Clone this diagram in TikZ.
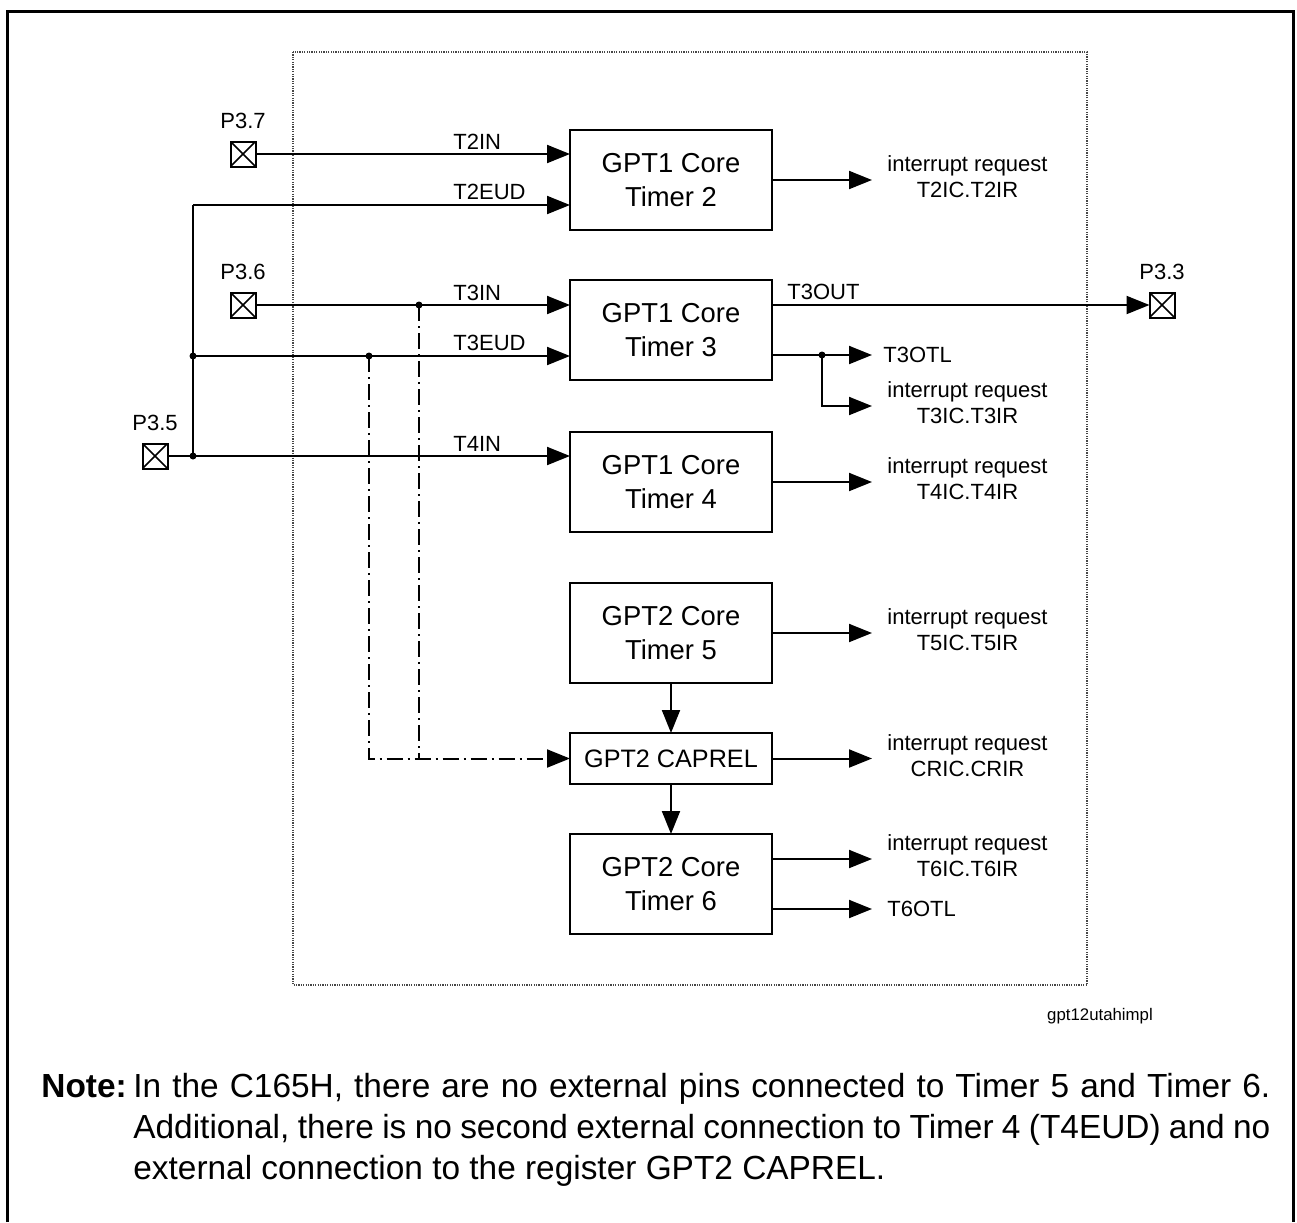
\documentclass[tikz,border=0pt]{standalone}
\usepackage{fontspec}
\setmainfont{Liberation Sans}
\usepackage{tikz}
\usetikzlibrary{arrows.meta,positioning}
\definecolor{gptInk}{RGB}{0,0,0}
\definecolor{gptDots}{RGB}{70,70,70}

\begin{document}
\begin{tikzpicture}[x=0.5pt,y=-0.5pt,
  node distance=25pt,
  core/.style={draw=gptInk,line width=1.3pt,outer sep=0pt,minimum width=101pt,minimum height=50pt,
               align=center,font=\fontsize{13.7pt}{17pt}\selectfont},
  pin/.style={draw=gptInk,line width=1pt,minimum size=12.5pt,inner sep=0pt,outer sep=0pt,
              path picture={\draw[line width=0.8pt]
                (path picture bounding box.north west)--(path picture bounding box.south east)
                (path picture bounding box.north east)--(path picture bounding box.south west);}},
  lbl/.style={font=\fontsize{11pt}{13pt}\selectfont,inner sep=0pt},
  irq/.style={lbl,align=center},
  dot/.style={circle,fill=gptInk,inner sep=0pt,minimum size=3.5pt},
  wire/.style={line width=1pt,draw=gptInk},
  sig/.style={wire,-{Triangle[length=11.5pt,width=9pt]}},
  dd/.style={sig,dash pattern=on 8pt off 2.5pt on 1pt off 2.5pt},
  notefont/.style={font=\fontsize{16.7pt}{20.5pt}\selectfont,inner sep=0pt}]
\useasboundingbox (0,0) rectangle (1297,1222);
% frame and module border
\draw[line width=1.5pt] (7,1222) -- (7,11) -- (1293,11) -- (1293,1222);
\draw[gptDots,line width=0.6pt,dash pattern=on 0.6pt off 0.6pt] (293,52) rectangle (1087,985);

% timer blocks
\node[core] (t2) at (671,180) {GPT1 Core\\Timer 2};
\node[core,below=of t2] (t3) {GPT1 Core\\Timer 3};
\node[core,below=26pt of t3] (t4) {GPT1 Core\\Timer 4};
\node[core,below=25.5pt of t4] (t5) {GPT2 Core\\Timer 5};
\node[core,minimum height=25.5pt,font=\fontsize{12.6pt}{15pt}\selectfont,below=of t5] (caprel) {GPT2 CAPREL};
\node[core,below=of caprel] (t6) {GPT2 Core\\Timer 6};

% port pins
\node[pin] (p37) at (243,154) {};
\node[pin] (p36) at (243,305) {};
\node[pin] (p35) at (155,456) {};
\node[pin] (p33) at (1162,305) {};
\node[lbl,above=6pt of p37] (p37l) {P3.7};
\node[lbl,above=6pt of p36] (p36l) {P3.6};
\node[lbl,above=6pt of p35] (p35l) {P3.5};
\node[lbl,above=6pt of p33] (p33l) {P3.3};

% inputs
\coordinate (c2eud) at (193,205);
\node[dot] (j3eud) at (193,356) {};
\node[dot] (j4in) at (193,456) {};
\node[dot] (jcapa) at (369,356) {};
\node[dot] (jcapb) at (419,305) {};
\draw[sig] (p37) -- (p37 -| t2.west);
\draw[sig] (c2eud) -- (c2eud -| t2.west);
\draw[wire] (c2eud) -- (j4in.center);
\draw[sig] (p36) -- (p36 -| t3.west);
\draw[sig] (j3eud.center) -- (j3eud -| t3.west);
\draw[sig] (p35) -- (p35 -| t4.west);
\draw[dd] (jcapa.center) |- (caprel.west);
\draw[dd,-] (jcapb.center) -- (jcapb |- caprel.west);
\node[lbl,anchor=base west] (t2inl) at (453,149) {T2IN};
\node[lbl,anchor=base west] (t2eudl) at (453,199) {T2EUD};
\node[lbl,anchor=base west] (t3inl) at (453,300) {T3IN};
\node[lbl,anchor=base west] (t3eudl) at (453,350) {T3EUD};
\node[lbl,anchor=base west] (t4inl) at (453,451) {T4IN};

% chain in GPT2
\draw[sig] (t5) -- (caprel);
\draw[sig] (caprel) -- (t6);

% outputs
\coordinate (ox) at (872,0);
\coordinate (o2) at (t2.east -| ox);
\coordinate (o3l) at (872,355);
\coordinate (o3i) at (872,406);
\coordinate (o4) at (t4.east -| ox);
\coordinate (o5) at (t5.east -| ox);
\coordinate (oc) at (caprel.east -| ox);
\coordinate (o6i) at ([yshift=12.5pt]t6.east -| ox);
\coordinate (o6l) at ([yshift=-12.5pt]t6.east -| ox);
\node[dot] (j3o) at (822,355) {};
\draw[sig] (t2) -- (o2);
\draw[sig] (t3.east |- p33) -- (p33);
\draw[wire] (t3.east |- j3o) -- (j3o.center);
\draw[sig] (j3o.center) -- (o3l);
\draw[sig] (j3o.center) |- (o3i);
\draw[sig] (t4) -- (o4);
\draw[sig] (t5) -- (o5);
\draw[sig] (caprel) -- (oc);
\draw[sig] (t6.east |- o6i) -- (o6i);
\draw[sig] (t6.east |- o6l) -- (o6l);
\node[lbl,anchor=base west] (t3outl) at (787,299) {T3OUT};
\node[irq,right=7.5pt of o2,yshift=1.5pt] (l2) {interrupt request\\T2IC.T2IR};
\node[lbl,right=5.5pt of o3l] (l3l) {T3OTL};
\node[irq,right=7.5pt of o3i,yshift=1.5pt] (l3i) {interrupt request\\T3IC.T3IR};
\node[irq,right=7.5pt of o4,yshift=1.5pt] (l4) {interrupt request\\T4IC.T4IR};
\node[irq,right=7.5pt of o5,yshift=1.5pt] (l5) {interrupt request\\T5IC.T5IR};
\node[irq,right=7.5pt of oc,yshift=1.5pt] (lc) {interrupt request\\CRIC.CRIR};
\node[irq,right=7.5pt of o6i,yshift=1.5pt] (l6i) {interrupt request\\T6IC.T6IR};
\node[lbl,right=7.5pt of o6l] (l6l) {T6OTL};

% figure tag and note
\node[font=\fontsize{8.4pt}{10pt}\selectfont,anchor=base,inner sep=0pt] (figtag) at (1100,1020) {gpt12utahimpl};
\node[notefont,anchor=base west] (notehd) at (41,1097) {\textbf{Note:}};
\node[notefont,anchor=north west,align=left] (notetxt) at (133,1073)
  {\makebox[568.5pt][s]{In the C165H, there are no external pins connected to Timer 5 and Timer 6.}\\
   \makebox[568.5pt][s]{Additional, there is no second external connection to Timer 4 (T4EUD) and no}\\
   external connection to the register GPT2 CAPREL.};
\end{tikzpicture}
\end{document}
